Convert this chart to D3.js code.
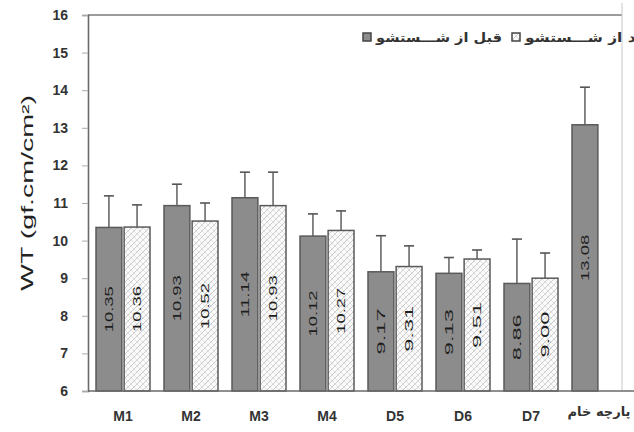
<!DOCTYPE html>
<html>
<head>
<meta charset="utf-8">
<script src="https://cdn.jsdelivr.net/npm/d3@7"></script>
<style>
  html, body { margin: 0; padding: 0; background: #fff; }
  svg { display: block; }
</style>
</head>
<body>
<svg id="chart" width="634" height="432"></svg>
<script>
// Categories and measured WT values (gf.cm/cm²), before and after washing
const categories = ["M1", "M2", "M3", "M4", "D5", "D6", "D7", "پارچه خام"];
const beforeWash = [10.35, 10.93, 11.14, 10.12, 9.17, 9.13, 8.86, 13.08];
const afterWash  = [10.36, 10.52, 10.93, 10.27, 9.31, 9.51, 9.00, null];
const beforeErr  = [0.84, 0.57, 0.68, 0.59, 0.96, 0.42, 1.18, 1.00];
const afterErr   = [0.59, 0.48, 0.89, 0.52, 0.55, 0.24, 0.67, null];
const yTicks = [6, 7, 8, 9, 10, 11, 12, 13, 14, 15, 16];
const seriesNames = ["قبل از شـــستشو", "بعد از شـــستشو"];

const svg = d3.select("#chart");
const plot = { left: 88, right: 622, top: 15, bottom: 391 };

const y = d3.scaleLinear().domain([6, 16]).range([plot.bottom, plot.top]);
const x = d3.scaleBand().domain(categories).range([89, 633]).padding(0);
const xs = d3.scaleBand().domain(["before", "after"]).range([7, 61]).paddingInner(0.08);

// hatch pattern for the after-washing bars
const defs = svg.append("defs");
const pat = defs.append("pattern")
  .attr("id", "hatch").attr("patternUnits", "userSpaceOnUse")
  .attr("width", 6).attr("height", 6);
pat.append("rect").attr("width", 6).attr("height", 6).attr("fill", "#fbfbfb");
pat.append("path").attr("d", "M0,6 L6,0 M-1,1 L1,-1 M5,7 L7,5")
  .attr("stroke", "#c4c4c4").attr("stroke-width", 0.9);
pat.append("path").attr("d", "M0,0 L6,6")
  .attr("stroke", "#dadada").attr("stroke-width", 0.7);

// frame
svg.append("line").attr("x1", plot.left).attr("x2", plot.right)
  .attr("y1", plot.top).attr("y2", plot.top)
  .attr("stroke", "#7a7a7a").attr("stroke-width", 1.5);
svg.append("line").attr("x1", plot.right).attr("x2", plot.right)
  .attr("y1", plot.top - 12).attr("y2", plot.bottom)
  .attr("stroke", "#c8c8c8").attr("stroke-width", 1);

// y axis
const yAxis = d3.axisLeft(y).tickValues(yTicks).tickSize(6).tickPadding(14);
const gy = svg.append("g").attr("transform", `translate(${plot.left},0)`).call(yAxis);
gy.select(".domain").attr("stroke", "#6a6a6a").attr("stroke-width", 1.6);
gy.selectAll(".tick line").attr("stroke", "#aaa");
gy.selectAll(".tick text")
  .attr("font-family", "Liberation Sans, Arial, sans-serif")
  .attr("font-size", 14).attr("font-weight", "bold").attr("fill", "#333");

// y axis title
svg.append("text")
  .attr("transform", "translate(33,193) rotate(-90)")
  .attr("text-anchor", "middle")
  .attr("font-family", "Liberation Sans, Arial, sans-serif")
  .attr("font-size", 16).attr("fill", "#222")
  .attr("textLength", 196).attr("lengthAdjust", "spacingAndGlyphs")
  .text("WT (gf.cm/cm²)");

// bars
const groups = svg.append("g").selectAll("g")
  .data(categories.map((c, i) => ({ c, i })))
  .join("g")
  .attr("transform", d => `translate(${x(d.c)},0)`);

function drawSeries(key, values, errs, fill) {
  const items = groups.filter(d => values[d.i] != null);
  // error bars (upper only)
  items.append("line")
    .attr("x1", xs(key) + xs.bandwidth() / 2).attr("x2", xs(key) + xs.bandwidth() / 2)
    .attr("y1", d => y(values[d.i])).attr("y2", d => y(values[d.i] + errs[d.i]))
    .attr("stroke", "#555").attr("stroke-width", 1.4);
  items.append("line")
    .attr("x1", xs(key) + xs.bandwidth() / 2 - 5).attr("x2", xs(key) + xs.bandwidth() / 2 + 5)
    .attr("y1", d => y(values[d.i] + errs[d.i])).attr("y2", d => y(values[d.i] + errs[d.i]))
    .attr("stroke", "#555").attr("stroke-width", 1.6);
  items.append("rect")
    .attr("x", xs(key)).attr("width", xs.bandwidth())
    .attr("y", d => y(values[d.i]))
    .attr("height", d => y(6) - y(values[d.i]))
    .attr("fill", fill).attr("stroke", "#5a5a5a").attr("stroke-width", 1.5);
  // value labels, rotated, centred in the bar
  items.append("text")
    .attr("transform", d => {
      const cx = xs(key) + xs.bandwidth() / 2;
      const cy = (y(values[d.i]) + y(6)) / 2;
      return `translate(${cx + 4},${cy}) rotate(-90)`;
    })
    .attr("text-anchor", "middle")
    .attr("font-family", "Liberation Sans, Arial, sans-serif")
    .attr("font-size", 11).attr("fill", "#1e1e1e")
    .attr("textLength", 46).attr("lengthAdjust", "spacingAndGlyphs")
    .text(d => values[d.i].toFixed(2));
}
drawSeries("before", beforeWash, beforeErr, "#8c8c8c");
drawSeries("after", afterWash, afterErr, "url(#hatch)");

// x axis
svg.append("line").attr("x1", plot.left).attr("x2", 634)
  .attr("y1", plot.bottom).attr("y2", plot.bottom)
  .attr("stroke", "#6a6a6a").attr("stroke-width", 1.6);
svg.append("g").selectAll("text")
  .data(categories)
  .join("text")
  .attr("x", d => x(d) + x.bandwidth() / 2)
  .attr("y", (d, i) => i === categories.length - 1 ? 416 : 421)
  .attr("text-anchor", "middle")
  .attr("font-family", (d, i) => i === categories.length - 1 ? "DejaVu Sans, sans-serif" : "Liberation Sans, Arial, sans-serif")
  .attr("font-size", (d, i) => i === categories.length - 1 ? 13 : 14)
  .attr("font-weight", "bold")
  .attr("fill", "#333")
  .text(d => d);

// legend
const legend = svg.append("g").attr("font-family", "DejaVu Sans, sans-serif");
const legendItems = [
  { name: seriesNames[0], fill: "#8c8c8c", x: 363 },
  { name: seriesNames[1], fill: "url(#hatch)", x: 512 }
];
legendItems.forEach(it => {
  legend.append("rect").attr("x", it.x).attr("y", 33).attr("width", 8).attr("height", 8)
    .attr("fill", it.fill).attr("stroke", "#444").attr("stroke-width", 1.5);
  legend.append("text").attr("x", it.x + 13).attr("y", 42)
    .attr("font-size", 13).attr("font-weight", "bold").attr("fill", "#333")
    .attr("textLength", 126).attr("lengthAdjust", "spacingAndGlyphs")
    .text(it.name);
});
</script>
</body>
</html>
